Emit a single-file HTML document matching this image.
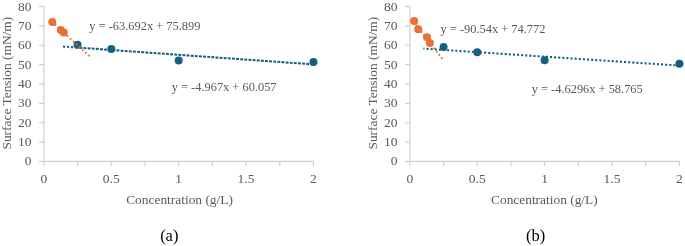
<!DOCTYPE html>
<html><head><meta charset="utf-8"><style>
html,body{margin:0;padding:0;background:#fff;}
body{width:685px;height:246px;overflow:hidden;}
svg{display:block;will-change:transform;}
text{font-family:"Liberation Serif",serif;}
.tk{font-size:13.5px;fill:#595959;}
.ti{font-size:13.4px;fill:#595959;}
.eq{font-size:12.4px;fill:#595959;}
.lb{font-size:16.5px;fill:#000;}
</style></head><body>
<svg width="685" height="246" viewBox="0 0 685 246">
<line x1="43.9" y1="6.3" x2="43.9" y2="161.4" stroke="#d0d0d0" stroke-width="1.2"/>
<line x1="43.3" y1="161.4" x2="314.05" y2="161.4" stroke="#d0d0d0" stroke-width="1.2"/>
<line x1="39.1" y1="161.40" x2="43.9" y2="161.40" stroke="#d0d0d0" stroke-width="1.2"/>
<text x="31.40" y="165.30" text-anchor="end" class="tk">0</text>
<line x1="39.1" y1="142.05" x2="43.9" y2="142.05" stroke="#d0d0d0" stroke-width="1.2"/>
<text x="31.40" y="145.95" text-anchor="end" class="tk">10</text>
<line x1="39.1" y1="122.70" x2="43.9" y2="122.70" stroke="#d0d0d0" stroke-width="1.2"/>
<text x="31.40" y="126.60" text-anchor="end" class="tk">20</text>
<line x1="39.1" y1="103.35" x2="43.9" y2="103.35" stroke="#d0d0d0" stroke-width="1.2"/>
<text x="31.40" y="107.25" text-anchor="end" class="tk">30</text>
<line x1="39.1" y1="84.00" x2="43.9" y2="84.00" stroke="#d0d0d0" stroke-width="1.2"/>
<text x="31.40" y="87.90" text-anchor="end" class="tk">40</text>
<line x1="39.1" y1="64.65" x2="43.9" y2="64.65" stroke="#d0d0d0" stroke-width="1.2"/>
<text x="31.40" y="68.55" text-anchor="end" class="tk">50</text>
<line x1="39.1" y1="45.30" x2="43.9" y2="45.30" stroke="#d0d0d0" stroke-width="1.2"/>
<text x="31.40" y="49.20" text-anchor="end" class="tk">60</text>
<line x1="39.1" y1="25.95" x2="43.9" y2="25.95" stroke="#d0d0d0" stroke-width="1.2"/>
<text x="31.40" y="29.85" text-anchor="end" class="tk">70</text>
<line x1="39.1" y1="6.60" x2="43.9" y2="6.60" stroke="#d0d0d0" stroke-width="1.2"/>
<text x="31.40" y="10.50" text-anchor="end" class="tk">80</text>
<line x1="43.90" y1="161.4" x2="43.90" y2="166.20000000000002" stroke="#d0d0d0" stroke-width="1.2"/>
<line x1="77.59" y1="161.4" x2="77.59" y2="166.20000000000002" stroke="#d0d0d0" stroke-width="1.2"/>
<line x1="111.29" y1="161.4" x2="111.29" y2="166.20000000000002" stroke="#d0d0d0" stroke-width="1.2"/>
<line x1="144.98" y1="161.4" x2="144.98" y2="166.20000000000002" stroke="#d0d0d0" stroke-width="1.2"/>
<line x1="178.68" y1="161.4" x2="178.68" y2="166.20000000000002" stroke="#d0d0d0" stroke-width="1.2"/>
<line x1="212.37" y1="161.4" x2="212.37" y2="166.20000000000002" stroke="#d0d0d0" stroke-width="1.2"/>
<line x1="246.06" y1="161.4" x2="246.06" y2="166.20000000000002" stroke="#d0d0d0" stroke-width="1.2"/>
<line x1="279.76" y1="161.4" x2="279.76" y2="166.20000000000002" stroke="#d0d0d0" stroke-width="1.2"/>
<line x1="313.45" y1="161.4" x2="313.45" y2="166.20000000000002" stroke="#d0d0d0" stroke-width="1.2"/>
<text x="43.90" y="182.9" text-anchor="middle" class="tk">0</text>
<text x="111.29" y="182.9" text-anchor="middle" class="tk">0.5</text>
<text x="178.68" y="182.9" text-anchor="middle" class="tk">1</text>
<text x="246.06" y="182.9" text-anchor="middle" class="tk">1.5</text>
<text x="313.45" y="182.9" text-anchor="middle" class="tk">2</text>
<text x="126.2" y="203.8" class="ti">Concentration (g/L)</text>
<text transform="translate(11.30,83.2) rotate(-90)" text-anchor="middle" class="ti">Surface Tension (mN/m)</text>
<circle cx="77.59" cy="44.7" r="4.0" fill="#156082"/>
<circle cx="111.29" cy="48.9" r="4.0" fill="#156082"/>
<circle cx="178.68" cy="60.4" r="4.0" fill="#156082"/>
<circle cx="313.45" cy="62.0" r="4.0" fill="#156082"/>
<line x1="63.04" y1="46.55" x2="77.59" y2="47.59" stroke="#156082" stroke-width="2.05" stroke-linecap="butt" stroke-dasharray="2.200 1.810" stroke-dashoffset="0.035"/>
<line x1="77.59" y1="47.59" x2="313.45" y2="64.41" stroke="#156082" stroke-width="2.05" stroke-linecap="butt" stroke-dasharray="2.900 1.236" stroke-dashoffset="2.374"/>
<circle cx="52.3" cy="22.05" r="4.0" fill="#E97132"/>
<circle cx="60.8" cy="30.1" r="4.0" fill="#E97132"/>
<circle cx="63.8" cy="32.5" r="4.0" fill="#E97132"/>
<line x1="52.32" y1="22.24" x2="89.32" y2="56.07" stroke="#E97132" stroke-width="2.1" stroke-linecap="round" stroke-dasharray="0.010 4.109" stroke-dashoffset="0.010"/>
<text x="89.3" y="29.8" class="eq">y = -63.692x + 75.899</text>
<text x="171.7" y="91.2" class="eq">y = -4.967x + 60.057</text>
<text x="169.3" y="241.3" text-anchor="middle" class="lb">(a)</text>
<line x1="409.9" y1="6.3" x2="409.9" y2="161.4" stroke="#d0d0d0" stroke-width="1.2"/>
<line x1="409.29999999999995" y1="161.4" x2="680.0" y2="161.4" stroke="#d0d0d0" stroke-width="1.2"/>
<line x1="405.09999999999997" y1="161.40" x2="409.9" y2="161.40" stroke="#d0d0d0" stroke-width="1.2"/>
<text x="397.40" y="165.30" text-anchor="end" class="tk">0</text>
<line x1="405.09999999999997" y1="142.05" x2="409.9" y2="142.05" stroke="#d0d0d0" stroke-width="1.2"/>
<text x="397.40" y="145.95" text-anchor="end" class="tk">10</text>
<line x1="405.09999999999997" y1="122.70" x2="409.9" y2="122.70" stroke="#d0d0d0" stroke-width="1.2"/>
<text x="397.40" y="126.60" text-anchor="end" class="tk">20</text>
<line x1="405.09999999999997" y1="103.35" x2="409.9" y2="103.35" stroke="#d0d0d0" stroke-width="1.2"/>
<text x="397.40" y="107.25" text-anchor="end" class="tk">30</text>
<line x1="405.09999999999997" y1="84.00" x2="409.9" y2="84.00" stroke="#d0d0d0" stroke-width="1.2"/>
<text x="397.40" y="87.90" text-anchor="end" class="tk">40</text>
<line x1="405.09999999999997" y1="64.65" x2="409.9" y2="64.65" stroke="#d0d0d0" stroke-width="1.2"/>
<text x="397.40" y="68.55" text-anchor="end" class="tk">50</text>
<line x1="405.09999999999997" y1="45.30" x2="409.9" y2="45.30" stroke="#d0d0d0" stroke-width="1.2"/>
<text x="397.40" y="49.20" text-anchor="end" class="tk">60</text>
<line x1="405.09999999999997" y1="25.95" x2="409.9" y2="25.95" stroke="#d0d0d0" stroke-width="1.2"/>
<text x="397.40" y="29.85" text-anchor="end" class="tk">70</text>
<line x1="405.09999999999997" y1="6.60" x2="409.9" y2="6.60" stroke="#d0d0d0" stroke-width="1.2"/>
<text x="397.40" y="10.50" text-anchor="end" class="tk">80</text>
<line x1="409.90" y1="161.4" x2="409.90" y2="166.20000000000002" stroke="#d0d0d0" stroke-width="1.2"/>
<line x1="443.59" y1="161.4" x2="443.59" y2="166.20000000000002" stroke="#d0d0d0" stroke-width="1.2"/>
<line x1="477.27" y1="161.4" x2="477.27" y2="166.20000000000002" stroke="#d0d0d0" stroke-width="1.2"/>
<line x1="510.96" y1="161.4" x2="510.96" y2="166.20000000000002" stroke="#d0d0d0" stroke-width="1.2"/>
<line x1="544.65" y1="161.4" x2="544.65" y2="166.20000000000002" stroke="#d0d0d0" stroke-width="1.2"/>
<line x1="578.34" y1="161.4" x2="578.34" y2="166.20000000000002" stroke="#d0d0d0" stroke-width="1.2"/>
<line x1="612.02" y1="161.4" x2="612.02" y2="166.20000000000002" stroke="#d0d0d0" stroke-width="1.2"/>
<line x1="645.71" y1="161.4" x2="645.71" y2="166.20000000000002" stroke="#d0d0d0" stroke-width="1.2"/>
<line x1="679.40" y1="161.4" x2="679.40" y2="166.20000000000002" stroke="#d0d0d0" stroke-width="1.2"/>
<text x="409.90" y="182.9" text-anchor="middle" class="tk">0</text>
<text x="477.27" y="182.9" text-anchor="middle" class="tk">0.5</text>
<text x="544.65" y="182.9" text-anchor="middle" class="tk">1</text>
<text x="612.02" y="182.9" text-anchor="middle" class="tk">1.5</text>
<text x="679.40" y="182.9" text-anchor="middle" class="tk">2</text>
<text x="491" y="203.8" class="ti">Concentration (g/L)</text>
<text transform="translate(377.30,83.2) rotate(-90)" text-anchor="middle" class="ti">Surface Tension (mN/m)</text>
<circle cx="443.59" cy="46.9" r="4.0" fill="#156082"/>
<circle cx="477.27" cy="52.2" r="4.0" fill="#156082"/>
<circle cx="544.65" cy="60.2" r="4.0" fill="#156082"/>
<circle cx="679.40" cy="63.7" r="4.0" fill="#156082"/>
<line x1="423.38" y1="48.59" x2="679.40" y2="65.61" stroke="#156082" stroke-width="2.05" stroke-linecap="butt" stroke-dasharray="2.100 2.024" stroke-dashoffset="1.020"/>
<circle cx="414.1" cy="20.95" r="4.0" fill="#E97132"/>
<circle cx="418.2" cy="29.25" r="4.0" fill="#E97132"/>
<circle cx="427" cy="37.3" r="4.0" fill="#E97132"/>
<circle cx="429.9" cy="42.9" r="4.0" fill="#E97132"/>
<line x1="414.11" y1="22.19" x2="442.78" y2="59.46" stroke="#E97132" stroke-width="2.1" stroke-linecap="round" stroke-dasharray="0.010 4.140" stroke-dashoffset="0.236"/>
<text x="440.5" y="32.5" class="eq">y = -90.54x + 74.772</text>
<text x="531.7" y="92.9" class="eq">y = -4.6296x + 58.765</text>
<text x="535.6" y="241.3" text-anchor="middle" class="lb">(b)</text>
</svg>
</body></html>
